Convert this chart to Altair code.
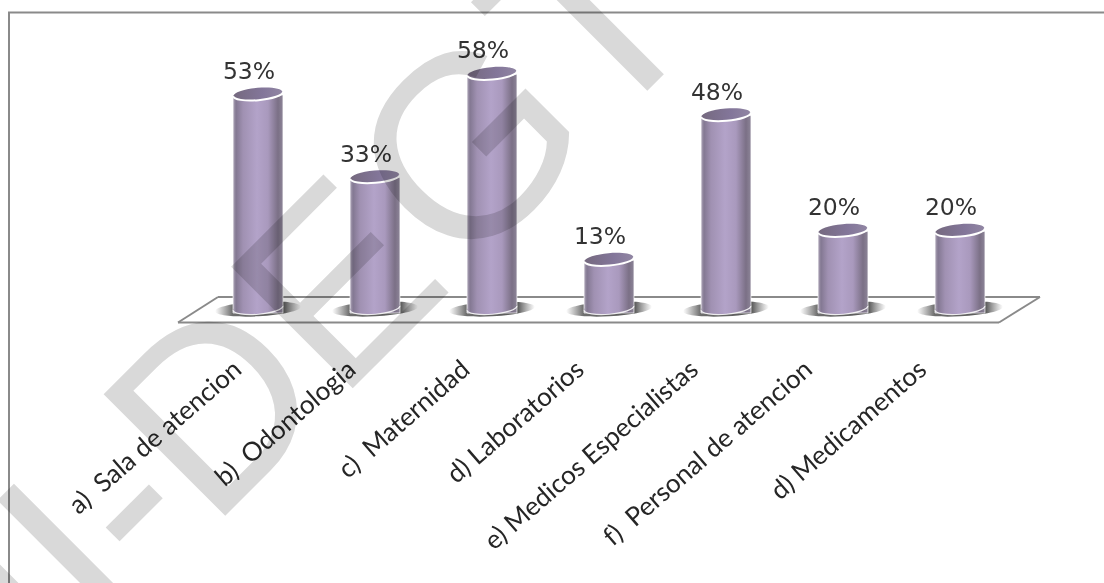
import math
import altair as alt
import pandas as pd

categories = ["a)\u00a0 Sala de atencion", "b)\u00a0 Odontologia", "c)\u00a0 Maternidad", "d) Laboratorios",
              "e) Medicos Especialistas", "f)\u00a0 Personal de atencion", "d) Medicamentos"]
shares = [53, 33, 58, 13, 48, 20, 20]

W, H = 1104, 583
BASE_Y = 308
TILT = 5
RY = 0.25


def rotated(tilt_deg):
    t = math.radians(tilt_deg)

    def pt(x, y):
        return f"{x * math.cos(t) + y * math.sin(t):.4f},{-x * math.sin(t) + y * math.cos(t):.4f}"

    return pt


def lower_arc_path(ry, tilt_deg):
    """Front half of a tilted ellipse, in the -1..1 box Vega expects for custom symbols."""
    pt, k = rotated(tilt_deg), 0.5523
    return (f"M{pt(-1, 0)} C{pt(-1, k * ry)} {pt(-k, ry)} {pt(0, ry)} "
            f"C{pt(k, ry)} {pt(1, k * ry)} {pt(1, 0)}")


def ellipse_path(ry, tilt_deg):
    pt, k = rotated(tilt_deg), 0.5523
    return (lower_arc_path(ry, tilt_deg) + " "
            f"C{pt(1, -k * ry)} {pt(k, -ry)} {pt(0, -ry)} "
            f"C{pt(-k, -ry)} {pt(-1, -k * ry)} {pt(-1, 0)} Z")


def horizontal(*stops):
    return alt.Gradient(
        gradient="linear", x1=0, x2=1, y1=0, y2=0,
        stops=[alt.GradientStop(offset=o, color=c) for o, c in stops],
    )


body_fill = horizontal(
    (0, "#b0a8ba"), (0.06, "#837892"), (0.2, "#a091b2"), (0.48, "#b3a3c9"),
    (0.7, "#a999bd"), (0.9, "#7b7086"), (1, "#8d8598"),
)
cap_fill = horizontal((0, "#75697f"), (0.6, "#83769a"), (1, "#9186a3"))
shadow_fill = horizontal(
    (0, "rgba(110,110,110,0)"), (0.2, "rgba(95,95,95,0.9)"),
    (0.8, "rgba(80,80,80,0.95)"), (1, "rgba(110,110,110,0)"),
)

table = pd.DataFrame({"categoria": categories, "valor": shares})
table["etiqueta"] = [f"{v}%" for v in shares]
base = alt.Chart(table)
single = base.transform_filter("datum.valor == 58")

x_enc = alt.X(
    "categoria:N", sort=None, axis=None,
    scale=alt.Scale(range=[199.5, 1018.5], paddingInner=0.573, paddingOuter=0.2865),
)
# The rotated category labels run on a slightly tighter spacing than the cylinders.
x_label = alt.X(
    "categoria:N", sort=None, axis=None,
    scale=alt.Scale(range=[181, 980], paddingInner=0, paddingOuter=0),
)
y_enc = alt.Y("valor:Q", axis=None, scale=alt.Scale(domain=[0, 60], range=[313, 65]))

GREY = "#8a8a8a"


def edge(x0, x1, y0, y1, width=2):
    return single.mark_rule(color=GREY, strokeWidth=width).encode(
        x=alt.value(x0), x2=alt.value(x1), y=alt.value(y0), y2=alt.value(y1)
    )


marco = [edge(8, W, 12.5, 12.5), edge(9, 9, 12, H)]
suelo = [
    edge(218, 1040, 297, 297),
    edge(178, 999, 322.5, 322.5),
    edge(178, 218, 322.5, 297),
    edge(999, 1040, 322.5, 297),
]

sombras = base.mark_point(
    shape=ellipse_path(0.17, 3), fill=shadow_fill, filled=True, strokeWidth=0, opacity=1
).encode(x=x_enc, y=alt.value(BASE_Y + 1), size=alt.value(86 ** 2))

cuerpos = base.mark_bar(
    fill=body_fill, stroke="#ffffff", strokeWidth=1, strokeOpacity=0.7, yOffset=1
).encode(x=x_enc, y=y_enc, y2=alt.value(BASE_Y - 3))
fondo = base.mark_point(
    shape=ellipse_path(RY, TILT), fill=body_fill, filled=True, strokeWidth=0, opacity=1
).encode(x=x_enc, y=alt.value(BASE_Y), size=alt.value(50 ** 2))
borde_fondo = base.mark_point(
    shape=lower_arc_path(RY, TILT), stroke="#ffffff", strokeWidth=1.2, filled=False, opacity=0.85
).encode(x=x_enc, y=alt.value(BASE_Y), size=alt.value(50 ** 2))

tapas = base.mark_point(
    shape=ellipse_path(RY, TILT), fill=cap_fill, filled=True, strokeWidth=0, opacity=1
).encode(x=x_enc, y=y_enc, size=alt.value(49 ** 2))
borde_tapa = base.mark_point(
    shape=lower_arc_path(RY, TILT), stroke="#ffffff", strokeWidth=2, filled=False, opacity=1
).encode(x=x_enc, y=y_enc, size=alt.value(50 ** 2))

etiquetas = base.mark_text(
    font="DejaVu Sans", fontSize=23.5, color="#333333", dx=-9, dy=-22, align="center", baseline="middle"
).encode(x=x_enc, y=y_enc, text="etiqueta:N")

categorias = base.mark_text(
    font="Lato", fontSize=26, color="#262626", align="right", baseline="middle", angle=319
).encode(x=x_label, y=alt.value(366), text="categoria:N")


def watermark(text, x, y, size=250):
    return single.transform_calculate(marca=f"'{text}'").mark_text(
        font="Liberation Sans", fontSize=size, color="#d9d9d9", align="left", baseline="alphabetic",
        angle=315, blend="multiply",
    ).encode(x=alt.value(x), y=alt.value(y), text="marca:N")


marcas = [
    watermark("NI-DE", -25, 766),
    watermark("G", 459.5, 281, 260),
    watermark("I", 631, 107),
    watermark("-", 517, 64),
]

chart = alt.layer(
    *marco, *suelo, sombras, cuerpos, fondo, borde_fondo, tapas, borde_tapa, etiquetas, categorias, *marcas
).resolve_scale(x="independent").properties(
    width=W, height=H, padding=0,
    autosize=alt.AutoSizeParams(type="none"),
    background="#ffffff",
).configure_view(stroke=None)

chart.save("out.html", embed_options={"renderer": "svg", "actions": False})
